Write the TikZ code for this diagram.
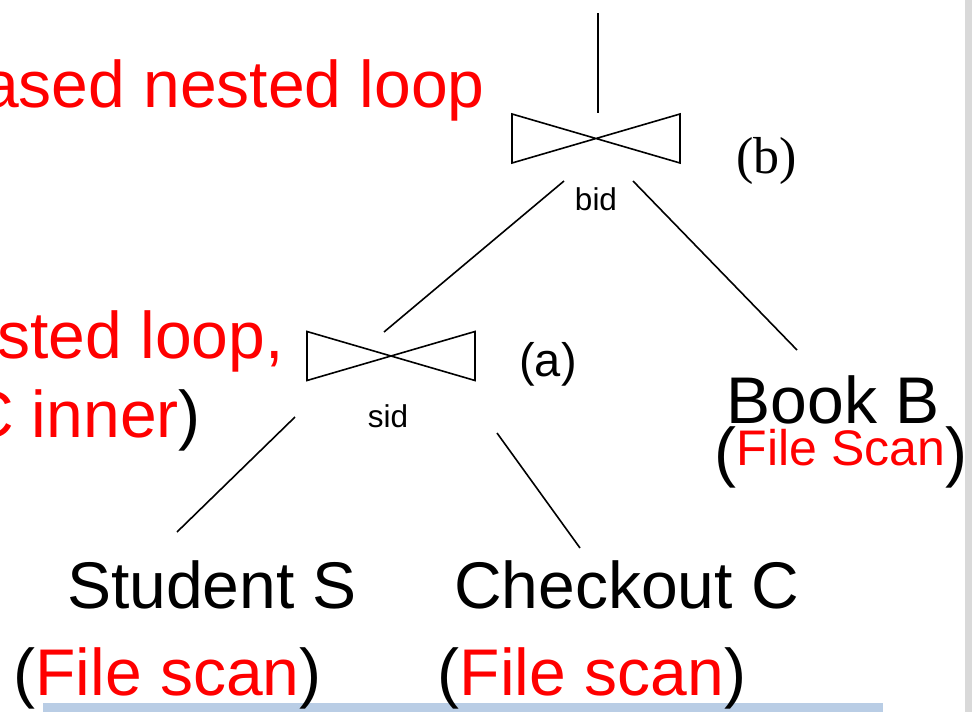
\documentclass[tikz,border=0pt]{standalone}
\usepackage{fontspec}
\setmainfont{Liberation Sans}
\newfontfamily\timesfont{Liberation Serif}
\definecolor{barblue}{HTML}{B9CDE5}
\definecolor{bandgray}{HTML}{D9D9D9}
\begin{document}
\begin{tikzpicture}[x=1pt,y=-1pt,
  big/.style={font=\fontsize{66}{79}\selectfont, inner sep=0pt},
  attr/.style={font=\fontsize{31.5}{38}\selectfont, inner sep=0pt, anchor=base},
  edge/.style={line width=1.6pt},
  bowtie/.pic={\draw[line width=1.6pt, line join=miter] (-84,-24.5) -- (84,24.5) -- (84,-24.5) -- (-84,24.5) -- cycle;}]
\useasboundingbox (0,0) rectangle (972,712);
\fill[bandgray] (965,0) rectangle (972,712);
\fill[barblue] (43,703) rectangle (883,712);
% left annotations (cut off at the left edge)
\node[big, red, anchor=base east] (t1) at (485,107) {ased nested loop};
\node[big, red, anchor=base east] (t2) at (284,358) {sted loop,};
\node[big, anchor=base east] (t3) at (201,437) {\textcolor{red}{C inner})};
% joins
\coordinate (jb) at (596,138.5);
\coordinate (ja) at (391,356);
\pic at (jb) {bowtie};
\pic at (ja) {bowtie};
\node[attr] (bid) at (596,210) {bid};
\node[attr] (sid) at (388,427) {sid};
\node[font=\timesfont\fontsize{52}{62}\selectfont, inner sep=0pt, anchor=base] (lb) at (766.5,173) {(b)};
\node[font=\fontsize{47}{56}\selectfont, inner sep=0pt, anchor=base] (la) at (548,376) {(a)};
% edge end points
\coordinate (top) at (598,13);
\coordinate (jbtop) at (598,113);
\coordinate (jbl) at (564,181);
\coordinate (jatop) at (384,332);
\coordinate (jbr) at (633,181);
\coordinate (btop) at (797,350);
\coordinate (jal) at (295,417);
\coordinate (stop) at (177,532);
\coordinate (jar) at (497,433);
\coordinate (ctop) at (580,548);
\draw[edge] (top) -- (jbtop);
\draw[edge] (jbl) -- (jatop);
\draw[edge] (jbr) -- (btop);
\draw[edge] (jal) -- (stop);
\draw[edge] (jar) -- (ctop);
% relations
\node[big, anchor=base] (S) at (212,608) {Student S};
\node[big, anchor=base] (C) at (626.5,608) {Checkout C};
\node[big, anchor=base] (Sf) at (167.5,695) {(\textcolor{red}{File scan})};
\node[big, anchor=base] (Cf) at (592,695) {(\textcolor{red}{File scan})};
\node[big, anchor=base] (B) at (833,423) {Book B};
\node[big, anchor=base] (Bf) at (841,474) {(\textcolor{red}{\fontsize{50}{60}\selectfont\raisebox{9pt}{File Scan}})};
\end{tikzpicture}
\end{document}
